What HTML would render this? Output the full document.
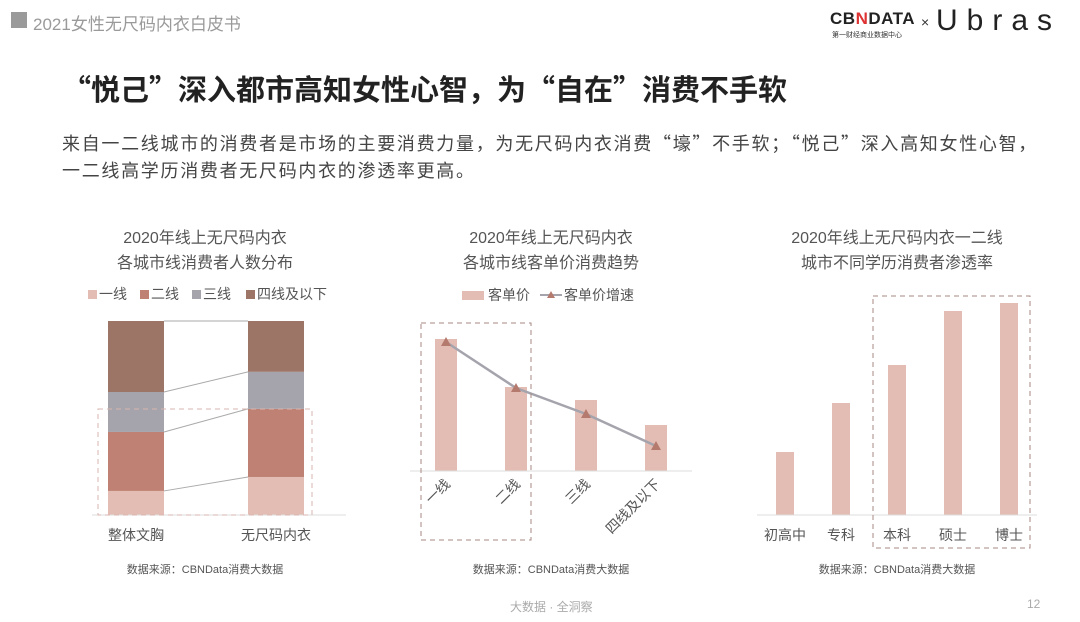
<!DOCTYPE html>
<html><head><meta charset="utf-8">
<style>
body{margin:0;width:1080px;height:622px;background:#fff;font-family:"Liberation Sans","Noto Sans CJK SC",sans-serif;position:relative;overflow:hidden}
.a{position:absolute;white-space:nowrap}
.cjk{font-family:"Noto Sans CJK SC",sans-serif}
</style></head><body>
<div class="a" style="left:11px;top:12px;width:16px;height:16px;background:#9a9a9a"></div>
<div class="a" style="left:33px;top:10px;font-size:17px;color:#9a9a9a">2021女性无尺码内衣白皮书</div>
<div class="a" style="left:830px;top:9px;font-size:17px;font-weight:bold;color:#222;letter-spacing:0.5px">CB<span style="color:#d33">N</span>DATA</div>
<div class="a" style="left:832px;top:30px;font-size:7px;color:#333">第一财经商业数据中心</div>
<div class="a" style="left:921px;top:14px;font-size:14px;color:#333">×</div>
<div class="a" style="left:936px;top:4px;font-size:30px;color:#222;letter-spacing:9px;font-weight:300">Ubras</div>
<div class="a cjk" style="left:62px;top:67px;font-size:29px;font-weight:bold;color:#222;line-height:42px">“悦己”深入都市高知女性心智，为“自在”消费不手软</div>
<div class="a cjk" style="left:62px;top:130px;font-size:18px;line-height:27px;color:#444;letter-spacing:1.7px">来自一二线城市的消费者是市场的主要消费力量，为无尺码内衣消费“壕”不手软；“悦己”深入高知女性心智，<br>一二线高学历消费者无尺码内衣的渗透率更高。</div>
<svg class="a" style="left:0;top:0" width="1080" height="622" id="svg"></svg>
<div class="a" style="left:510px;top:598px;font-size:12px;color:#aaa">大数据 · 全洞察</div>
<div class="a" style="left:1027px;top:597px;font-size:12px;color:#aaa">12</div>
<script>
// chart 1
const c1Cats=["整体文胸","无尺码内衣"];
const c1Series=["一线","二线","三线","四线及以下"];
const c1Values=[[12.4,30.4,20.6,36.6],[19.6,35.1,19.1,26.2]];
const c1Colors=["#e3bdb4","#bf8173","#a5a4ad","#9d7567"];
// chart 2
const c2Cats=["一线","二线","三线","四线及以下"];
const c2Price=[132,84,71,46];
const c2Growth=[129,83,57,25];
// chart 3
const c3Cats=["初高中","专科","本科","硕士","博士"];
const c3Values=[63,112,150,204,212];

const svg=document.getElementById('svg');
const NS="http://www.w3.org/2000/svg";
function mk(tag,attrs,txt){const e=document.createElementNS(NS,tag);for(const k in attrs)e.setAttribute(k,attrs[k]);if(txt!==undefined)e.textContent=txt;svg.appendChild(e);return e;}
const gray="#555";
function title(x,y,t,n){const e=mk('text',{x:x,y:y,'text-anchor':'middle','font-size':16,fill:gray},t);}
function src(x){const e=mk('text',{x:x,y:573,'text-anchor':'middle','font-size':11,fill:gray},'数据来源：CBNData消费大数据');}

// ---- chart 1
title(205,243,'2020年线上无尺码内衣','chart1-title-line1');title(205,268,'各城市线消费者人数分布','chart1-title-line2');
const lx=[88,140,192,246];
c1Series.forEach((s,i)=>{
 let r=mk('rect',{x:lx[i],y:290,width:9,height:9,fill:c1Colors[i]});
 
 let t=mk('text',{x:lx[i]+11,y:299,'font-size':14,fill:gray},s);
 
});
const c1Base=515,c1H=194,c1X=[108,248],c1W=56;
const c1Y=v=>c1Base-v/100*c1H;
const tops=[];
c1Cats.forEach((c,ci)=>{
 let cum=0;const t=[];
 c1Values[ci].forEach((v,si)=>{
  const y0=c1Y(cum),y1=c1Y(cum+v);cum+=v;t.push(y1);
  const r=mk('rect',{x:c1X[ci],y:y1,width:c1W,height:y0-y1,fill:c1Colors[si]});
  
 });
 tops.push(t);
 const l=mk('text',{x:c1X[ci]+c1W/2,y:540,'text-anchor':'middle','font-size':14,fill:gray},c);
 
});
for(let s=0;s<4;s++){const l=mk('line',{x1:c1X[0]+c1W,y1:tops[0][s],x2:c1X[1],y2:tops[1][s],stroke:'#aaa','stroke-width':1});}
let e=mk('line',{x1:92,y1:515,x2:346,y2:515,stroke:'#ddd'});
e=mk('rect',{x:98,y:409,width:214,height:106,fill:'none',stroke:'#d9b6b0','stroke-dasharray':'5,4'});
src(205);

// ---- chart 2
title(551,243,'2020年线上无尺码内衣','chart2-title-line1');title(551,268,'各城市线客单价消费趋势','chart2-title-line2');
e=mk('rect',{x:462,y:291,width:22,height:9,fill:'#e3bdb4'});
e=mk('text',{x:488,y:300,'font-size':14,fill:gray},'客单价');
e=mk('line',{x1:540,y1:295,x2:562,y2:295,stroke:'#a5a4ad','stroke-width':2});
e=mk('path',{d:'M551 291 L555 298 L547 298Z',fill:'#b57a6e'});
e=mk('text',{x:564,y:300,'font-size':14,fill:gray},'客单价增速');
const c2Base=471,c2X=i=>446+i*70,c2Y=v=>c2Base-v;
c2Price.forEach((v,i)=>{const r=mk('rect',{x:c2X(i)-11,y:c2Y(v),width:22,height:v,fill:'#e3bdb4'});
 const t=mk('text',{x:0,y:0,'text-anchor':'end','font-size':14,fill:gray,transform:`translate(${c2X(i)+5},${c2Base+14}) rotate(-45)`},c2Cats[i]);});
e=mk('line',{x1:410,y1:471,x2:692,y2:471,stroke:'#ddd'});
let d='';c2Growth.forEach((v,i)=>{d+=(i?'L':'M')+c2X(i)+' '+c2Y(v);});
e=mk('path',{d:d,fill:'none',stroke:'#a5a4ad','stroke-width':2.5});
c2Growth.forEach((v,i)=>{const x=c2X(i),y=c2Y(v);const m=mk('path',{d:`M${x} ${y-5} L${x+5} ${y+4} L${x-5} ${y+4}Z`,fill:'#b57a6e'});});
e=mk('rect',{x:421,y:323,width:110,height:217,fill:'none',stroke:'#a88a83','stroke-dasharray':'5,4'});
src(551);

// ---- chart 3
title(897,243,'2020年线上无尺码内衣一二线','chart3-title-line1');title(897,268,'城市不同学历消费者渗透率','chart3-title-line2');
const c3Base=515,c3X=i=>785+i*56;
c3Values.forEach((v,i)=>{const r=mk('rect',{x:c3X(i)-9,y:c3Base-v,width:18,height:v,fill:'#e3bdb4'});
 const t=mk('text',{x:c3X(i),y:540,'text-anchor':'middle','font-size':14,fill:gray},c3Cats[i]);});
e=mk('line',{x1:757,y1:515,x2:1037,y2:515,stroke:'#ddd'});
e=mk('rect',{x:873,y:296,width:157,height:252,fill:'none',stroke:'#a88a83','stroke-dasharray':'5,4'});
src(897);
</script>
</body></html>
